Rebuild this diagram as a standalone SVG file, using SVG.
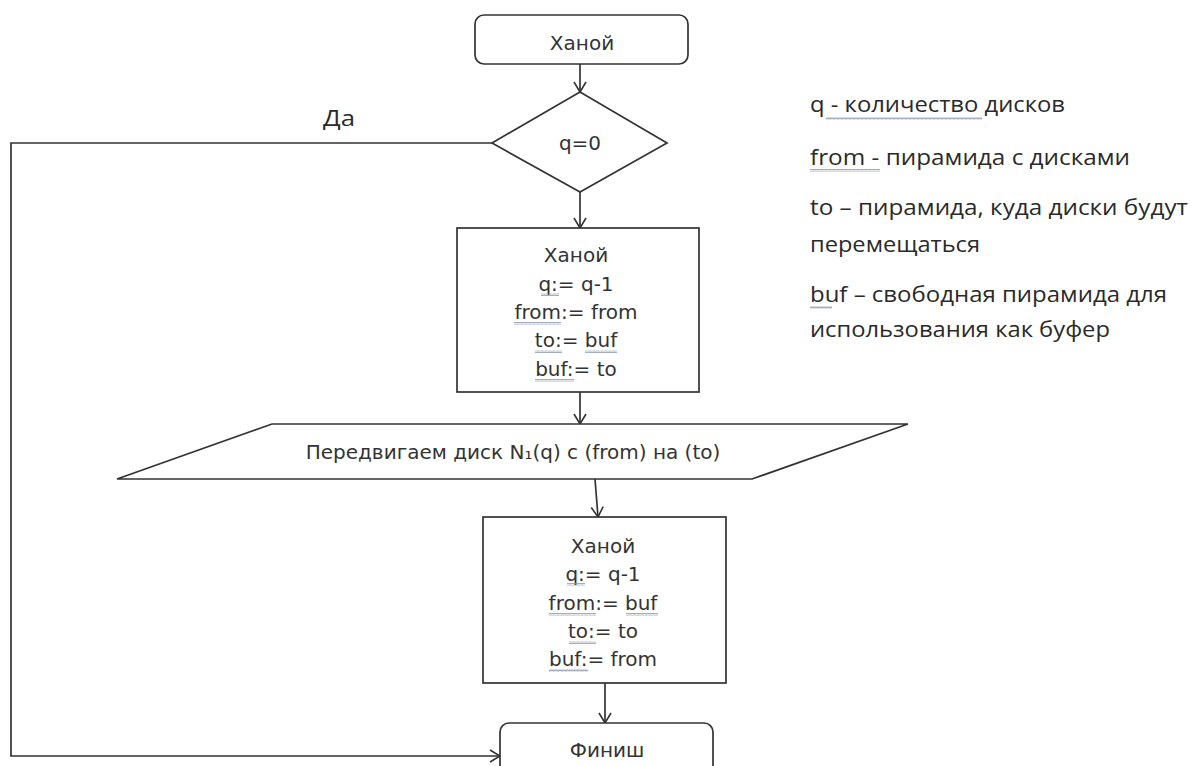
<svg xmlns="http://www.w3.org/2000/svg" width="1195" height="766" viewBox="0 0 1195 766">
<defs>
<style>
.shape{fill:#fff;stroke:#333;stroke-width:1.7}
.conn{fill:none;stroke:#333;stroke-width:1.7}
.t{font-family:"DejaVu Sans","Liberation Sans",sans-serif;font-size:20px;fill:#333;text-anchor:middle}
.n{font-family:"Open Sans","Liberation Sans",sans-serif;font-size:21px;fill:#2a2a2a}
.sq{fill:url(#wave)}
</style>
<marker id="arr" markerWidth="12" markerHeight="14" refX="11" refY="7" orient="auto" markerUnits="userSpaceOnUse">
<path d="M1,1 L11,7 L1,13" fill="none" stroke="#333" stroke-width="1.6"/>
</marker>
<pattern id="wave" width="4" height="3" patternUnits="userSpaceOnUse">
<path d="M0,2.5 L1,0.5 L2,2.5 L3,0.5 L4,2.5" fill="none" stroke="#8c9bb0" stroke-width="0.8"/>
</pattern>
</defs>
<rect width="1195" height="766" fill="#fff"/>

<g id="connectors">
<line class="conn" x1="580" y1="64" x2="580" y2="92" marker-end="url(#arr)"/>
<line class="conn" x1="580" y1="192" x2="580" y2="228" marker-end="url(#arr)"/>
<line class="conn" x1="580" y1="392" x2="580" y2="424" marker-end="url(#arr)"/>
<line class="conn" x1="595" y1="479" x2="598" y2="517" marker-end="url(#arr)"/>
<line class="conn" x1="605" y1="683" x2="605" y2="723" marker-end="url(#arr)"/>
<polyline class="conn" points="492,143 11,143 11,756 500,756" marker-end="url(#arr)"/>
<text class="n" x="323" y="126" textLength="32" lengthAdjust="spacingAndGlyphs">Да</text>
</g>

<g id="start">
<rect class="shape" x="475" y="15" width="213" height="49" rx="9"/>
<text class="t" x="582" y="50">Ханой</text>
</g>

<g id="decision">
<polygon class="shape" points="580,92 667,143 580,192 492,143"/>
<text class="t" x="580" y="150">q=0</text>
</g>

<g id="call1">
<rect class="shape" x="457" y="228" width="242" height="164"/>
<text class="t" x="576" y="262">Ханой</text>
<text class="t" x="576" y="291">q:= q-1</text>
<text class="t" x="576" y="319">from:= from</text>
<text class="t" x="576" y="347">to:= buf</text>
<text class="t" x="576" y="376">buf:= to</text>
<rect class="sq" x="541" y="293" width="18" height="3"/>
<rect class="sq" x="514" y="322" width="47" height="3"/>
<rect class="sq" x="535" y="350" width="27" height="3"/>
<rect class="sq" x="585" y="350" width="32" height="3"/>
<rect class="sq" x="535" y="379" width="39" height="3"/>
</g>

<g id="move">
<polygon class="shape" points="272,424 908,424 752,479 117,479"/>
<text class="t" x="513" y="459">Передвигаем диск N₁(q) с (from) на (to)</text>
</g>

<g id="call2">
<rect class="shape" x="483" y="517" width="243" height="166"/>
<text class="t" x="603" y="553">Ханой</text>
<text class="t" x="603" y="581">q:= q-1</text>
<text class="t" x="603" y="610">from:= buf</text>
<text class="t" x="603" y="638">to:= to</text>
<text class="t" x="603" y="666">buf:= from</text>
<rect class="sq" x="567" y="583" width="18" height="3"/>
<rect class="sq" x="549" y="613" width="47" height="3"/>
<rect class="sq" x="626" y="613" width="32" height="3"/>
<rect class="sq" x="569" y="641" width="27" height="3"/>
<rect class="sq" x="549" y="669" width="39" height="3"/>
</g>

<g id="finish">
<rect class="shape" x="500" y="723" width="213" height="60" rx="9"/>
<text class="t" x="607" y="757">Финиш</text>
</g>

<g id="notes">
<text class="n" x="810" y="112" textLength="255" lengthAdjust="spacingAndGlyphs">q -  количество дисков</text>
<text class="n" x="810" y="165" textLength="320" lengthAdjust="spacingAndGlyphs">from  - пирамида с дисками</text>
<text class="n" x="810" y="215" textLength="378" lengthAdjust="spacingAndGlyphs">to – пирамида, куда диски будут</text>
<text class="n" x="810" y="252" textLength="170" lengthAdjust="spacingAndGlyphs">перемещаться</text>
<text class="n" x="810" y="302" textLength="357" lengthAdjust="spacingAndGlyphs">buf – свободная пирамида для</text>
<text class="n" x="810" y="337" textLength="300" lengthAdjust="spacingAndGlyphs">использования как буфер</text>
<rect class="sq" x="826" y="117" width="156" height="3"/>
<rect class="sq" x="810" y="169" width="70" height="3"/>
<rect class="sq" x="810" y="306" width="22" height="3"/>
</g>
</svg>
